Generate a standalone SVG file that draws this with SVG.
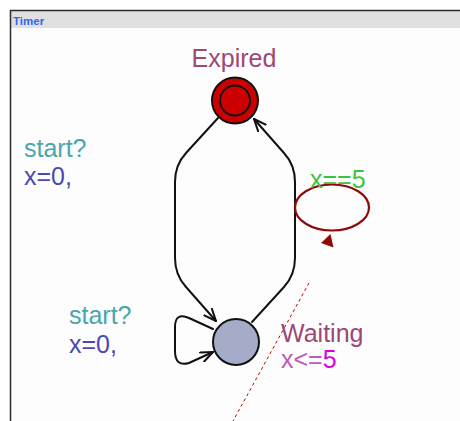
<svg xmlns="http://www.w3.org/2000/svg" width="460" height="421" viewBox="0 0 460 421">
  <defs>
    <style>
      .lbl { font-family: "Liberation Sans", Arial, sans-serif; font-size: 25px; }
      .name { fill: #9c4876; }
      .sync { fill: #4aa6a8; }
      .assign { fill: #4a48b4; }
      .guard { fill: #3cc43c; }
      .inv { fill: #c058c0; }
      .edge { fill: none; stroke: #111; stroke-width: 2; stroke-linejoin: round; stroke-linecap: round; }
    </style>
    <marker id="open" viewBox="0 0 14 12" refX="13" refY="6" markerWidth="14" markerHeight="12" markerUnits="userSpaceOnUse" orient="auto">
      <path d="M1,1 L13,6 L1,11" fill="none" stroke="#111" stroke-width="2" stroke-linecap="round" stroke-linejoin="round"/>
    </marker>
  </defs>

  <!-- template frame -->
  <rect x="0" y="0" width="460" height="421" fill="#ffffff"/>
  <rect x="11" y="11" width="449" height="410" fill="#fdfdfd"/>
  <rect x="11" y="11" width="449" height="17" fill="#e0e0e0"/>
  <path d="M10.5,421 V10.5 H460" fill="none" stroke="#2a2a2a" stroke-width="1.5"/>
  <text x="13" y="24.5" font-family="Liberation Sans, Arial, sans-serif" font-size="11.5" font-weight="bold" fill="#3366ee">Timer</text>

  <!-- connectors -->
  <g id="edges">
    <path class="edge" d="M218,118 L186,153 Q175,165 175,182 L175,258 Q175,275 186,287 L216,321" marker-end="url(#open)"/>
    <path class="edge" d="M252,322 L284,287 Q295,275 295,258 L295,182 Q295,165 284,153 L254,119" marker-end="url(#open)"/>
    <path class="edge" d="M213,329 L189,318 Q175,312 175,327 L175,351 Q175,367 189,363 L213,352" marker-end="url(#open)"/>
    <ellipse cx="332" cy="207.5" rx="37" ry="23" fill="none" stroke="#8e0a0a" stroke-width="2.2"/>
    <polygon points="321,243 330.5,234 333.5,247.5" fill="#8e0a0a"/>
    <line x1="309" y1="283" x2="233" y2="421" stroke="#c00000" stroke-width="1" stroke-dasharray="3,3"/>
  </g>

  <!-- locations -->
  <g id="Expired">
    <circle cx="235" cy="100.5" r="23" fill="#cc0000" stroke="#111" stroke-width="2"/>
    <circle cx="235" cy="100.5" r="15" fill="none" stroke="#111" stroke-width="2"/>
    <text class="lbl name" x="234" y="67" text-anchor="middle">Expired</text>
  </g>
  <g id="Waiting">
    <circle cx="236" cy="342" r="23" fill="#a4acc8" stroke="#111" stroke-width="2"/>
    <text class="lbl name" x="281" y="341.5">Waiting</text>
    <text class="lbl" x="281" y="368"><tspan class="inv">x&lt;=</tspan><tspan fill="#d800d8">5</tspan></text>
  </g>

  <!-- edge labels -->
  <g id="labels">
    <text class="lbl sync" x="24" y="157">start?</text>
    <text class="lbl assign" x="24" y="185">x=0,</text>
    <text class="lbl sync" x="69" y="323.5">start?</text>
    <text class="lbl assign" x="69" y="353">x=0,</text>
    <text class="lbl guard" x="310" y="187.5">x==5</text>
  </g>
</svg>
